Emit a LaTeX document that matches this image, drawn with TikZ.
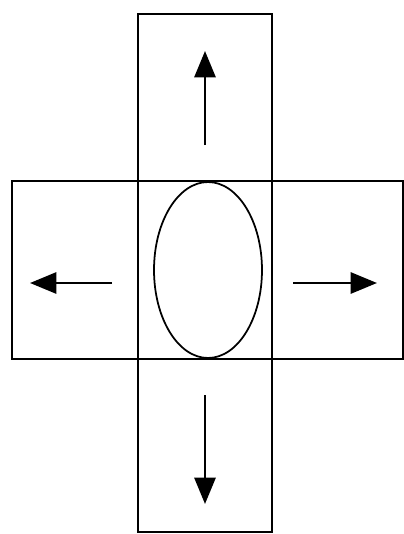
\documentclass[tikz,border=0pt]{standalone}
\usepackage{tikz}
\usetikzlibrary{arrows.meta,shapes.geometric}

\begin{document}
\begin{tikzpicture}[
  x=0.02cm, y=-0.02cm,
  band/.style={draw, line width=1.4pt, inner sep=0pt},
  cell/.style={draw, ellipse, line width=1pt, inner sep=0pt, minimum width=2.16cm, minimum height=3.52cm},
  arr/.style={-{Triangle[length=15pt, width=12pt]}, line width=1.5pt}
]
  \useasboundingbox (0,0) rectangle (404,534);

  % Bands
  \node[band, minimum width=2.68cm, minimum height=10.36cm] (vband) at (205,273) {};
  \node[band, minimum width=7.82cm, minimum height=3.56cm] (hband) at (207.5,270) {};

  % Cell
  \node[cell] (cell) at (208,270) {};

  % Arrow ends
  \coordinate (upfrom) at (205,145);
  \coordinate (upto) at (205,51);
  \coordinate (leftfrom) at (112,283);
  \coordinate (leftto) at (30,283);
  \coordinate (rightfrom) at (293,283);
  \coordinate (rightto) at (377,283);
  \coordinate (downfrom) at (205,395);
  \coordinate (downto) at (205,504);

  % Arrows
  \draw[arr] (upfrom) -- (upto);
  \draw[arr] (leftfrom) -- (leftto);
  \draw[arr] (rightfrom) -- (rightto);
  \draw[arr] (downfrom) -- (downto);
\end{tikzpicture}
\end{document}
